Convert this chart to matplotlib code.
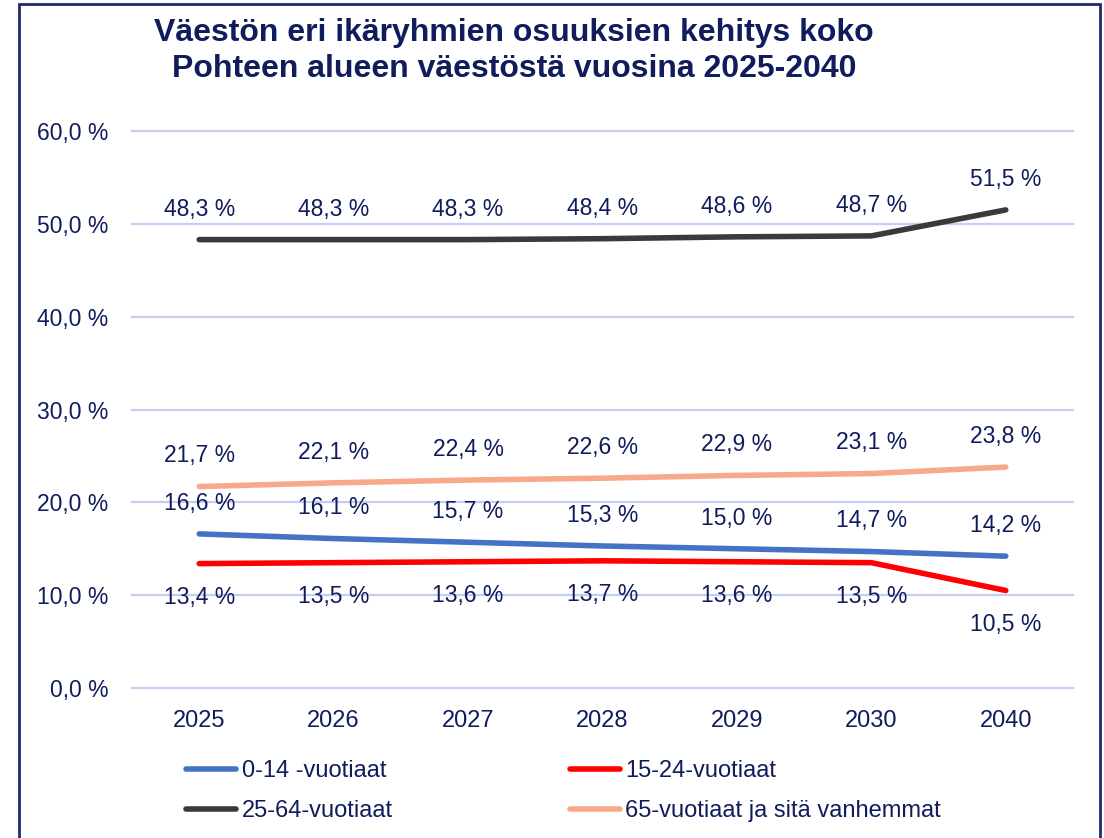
import matplotlib
matplotlib.use("Agg")
import matplotlib.pyplot as plt
from matplotlib.patches import Rectangle
from matplotlib import font_manager

years = ["2025", "2026", "2027", "2028", "2029", "2030", "2040"]
age_0_14 = [16.6, 16.1, 15.7, 15.3, 15.0, 14.7, 14.2]
age_15_24 = [13.4, 13.5, 13.6, 13.7, 13.6, 13.5, 10.5]
age_25_64 = [48.3, 48.3, 48.3, 48.4, 48.6, 48.7, 51.5]
age_65 = [21.7, 22.1, 22.4, 22.6, 22.9, 23.1, 23.8]
series_names = ["0-14 -vuotiaat", "15-24-vuotiaat", "25-64-vuotiaat",
                "65-vuotiaat ja sitä vanhemmat"]
title = "Väestön eri ikäryhmien osuuksien kehitys koko\nPohteen alueen väestöstä vuosina 2025-2040"

names = {f.name for f in font_manager.fontManager.ttflist}
narrow = "Liberation Sans Narrow" if "Liberation Sans Narrow" in names else "Liberation Sans"
regular = "Liberation Sans"

navy = "#101C5C"
colors = ["#4472C4", "#FF0000", "#3A3A3A", "#F8A98B"]
label_pos = ["above", "below", "above", "above"]

fig = plt.figure(figsize=(11.04, 8.38), dpi=100)
W, H = 1104, 838
ax = fig.add_axes([132 / W, 1 - 688 / H, (1073 - 132) / W, (688 - 131) / H])

x = list(range(len(years)))
all_series = [age_0_14, age_15_24, age_25_64, age_65]
handles = []
for vals, c, pos in zip(all_series, colors, label_pos):
    ln, = ax.plot(x, vals, color=c, lw=4, solid_capstyle="round", zorder=3)
    handles.append(ln)
    for xi, v in zip(x, vals):
        dy = 22 if pos == "above" else -24.5
        ax.annotate(f"{v:.1f} %".replace(".", ","), (xi, v), xytext=(0, dy),
                    textcoords="offset points", ha="center", va="center",
                    fontsize=16.5, color=navy, family=regular)

ax.set_xlim(-0.5, len(years) - 0.5)
ax.set_ylim(0, 60)
ax.set_yticks(range(0, 61, 10))
ax.set_yticklabels([f"{v},0 %" for v in range(0, 61, 10)], fontsize=16.5,
                   color=navy, family=regular)
ax.set_xticks(x)
ax.set_xticklabels(years, fontsize=17, color=navy, family=narrow)
ax.tick_params(axis="both", length=0)
ax.tick_params(axis="y", pad=17)
ax.tick_params(axis="x", pad=16)
ax.grid(axis="y", color="#C5CDF5", lw=1.6, zorder=0)
for gl in ax.get_ygridlines():
    gl.set_clip_on(False)
for s in ax.spines.values():
    s.set_visible(False)

fig.text(514 / W, 1 - 51 / H, title, ha="center", va="center", fontsize=23,
         fontweight="bold", color=navy, family=narrow, linespacing=1.22)

order = [0, 2, 1, 3]
leg = fig.legend([handles[i] for i in order], [series_names[i] for i in order],
                 ncol=2, loc="upper left", bbox_to_anchor=(165 / W, 1 - 739 / H),
                 frameon=False, handlelength=2.1, handletextpad=0.25,
                 columnspacing=7.5, labelspacing=0.75,
                 prop={"family": narrow, "size": 17})
for t in leg.get_texts():
    t.set_color(navy)

fig.patches.append(Rectangle((19 / W, -0.05), (1100 - 19) / W, 1.05 - 4 / H,
                             transform=fig.transFigure, fill=False,
                             edgecolor="#1F2A6B", lw=2))

fig.savefig("out.png", dpi=100)
